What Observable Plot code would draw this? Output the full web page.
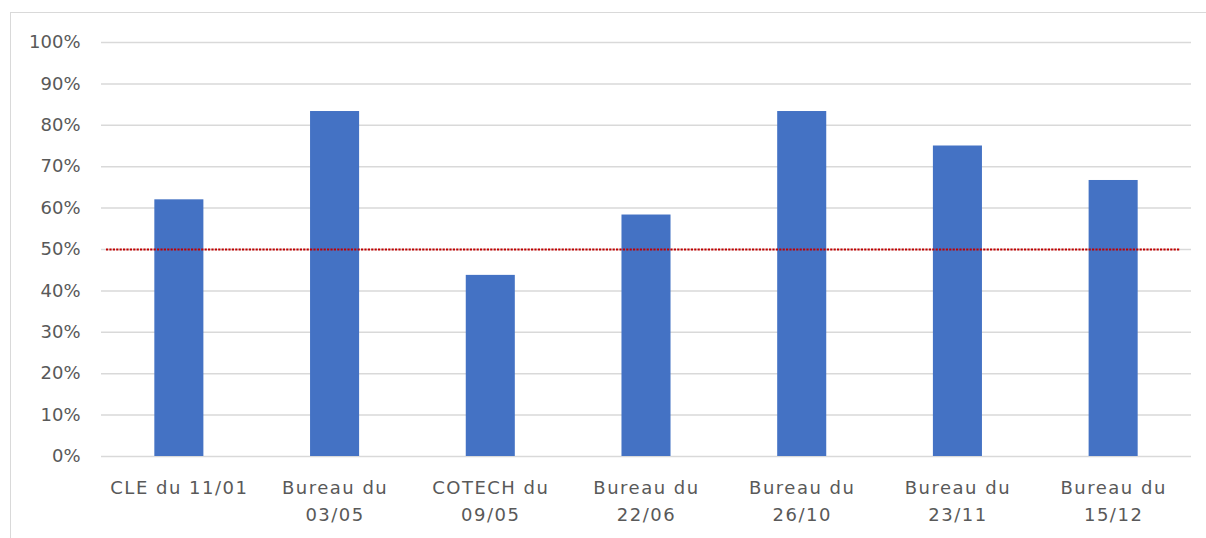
<!DOCTYPE html>
<html>
<head>
<meta charset="utf-8">
<script src="https://cdn.jsdelivr.net/npm/d3@7"></script>
<script src="https://cdn.jsdelivr.net/npm/@observablehq/plot@0.6"></script>
<style>
  html, body { margin: 0; padding: 0; background: #fff; overflow: hidden; }
  #wrap { position: relative; width: 1206px; height: 538px; }
  #frame { position: absolute; left: 10px; top: 12px; width: 1210px; height: 560px; border: 1.5px solid #d9d9d9; box-sizing: border-box; }
  #chart { position: absolute; left: 0; top: 0; }
  .xax text { letter-spacing: 1.5px; }
</style>
</head>
<body>
<div id="wrap"><div id="frame"></div><div id="chart"></div></div>
<script>
const categories = ["CLE du 11/01", "Bureau du 03/05", "COTECH du 09/05", "Bureau du 22/06", "Bureau du 26/10", "Bureau du 23/11", "Bureau du 15/12"];
const tickLabels = ["CLE du 11/01", "Bureau du\n03/05", "COTECH du\n09/05", "Bureau du\n22/06", "Bureau du\n26/10", "Bureau du\n23/11", "Bureau du\n15/12"];
const values = [0.62, 0.8333, 0.4375, 0.5833, 0.8333, 0.75, 0.6667];
const threshold = [0.5];
const yTicks = [0, 0.1, 0.2, 0.3, 0.4, 0.5, 0.6, 0.7, 0.8, 0.9, 1.0];

const data = categories.map((c, i) => ({cat: c, value: values[i]}));
const labelOf = new Map(categories.map((c, i) => [c, tickLabels[i]]));

const plot = Plot.plot({
  width: 1206,
  height: 538,
  marginLeft: 101,
  marginRight: 15,
  marginTop: 42,
  marginBottom: 82,
  style: {fontFamily: "'DejaVu Sans', sans-serif", fontSize: "18px", color: "#595959", background: "transparent"},
  x: {domain: categories, paddingInner: 0.685, paddingOuter: 0.3425, round: false},
  y: {domain: [0, 1]},
  marks: [
    Plot.ruleY(yTicks, {stroke: "#d9d9d9", strokeWidth: 1.5}),
    Plot.barY(data, {x: "cat", y: "value", fill: "#4472C4"}),
    Plot.ruleY(threshold, {stroke: "#C00000", strokeWidth: 2.2, strokeDasharray: "2.2,1.2", insetLeft: 5, insetRight: 11}),
    Plot.axisY({ticks: yTicks, tickFormat: d => Math.round(d * 100) + "%", tickSize: 0, tickPadding: 21, label: null, fill: "#595959", fontSize: 18}),
    Plot.axisX({tickFormat: d => labelOf.get(d), tickSize: 0, tickPadding: 18, label: null, lineHeight: 1.5, fill: "#595959", fontSize: 18, className: "xax"})
  ]
});
document.getElementById("chart").appendChild(plot);
</script>
</body>
</html>
